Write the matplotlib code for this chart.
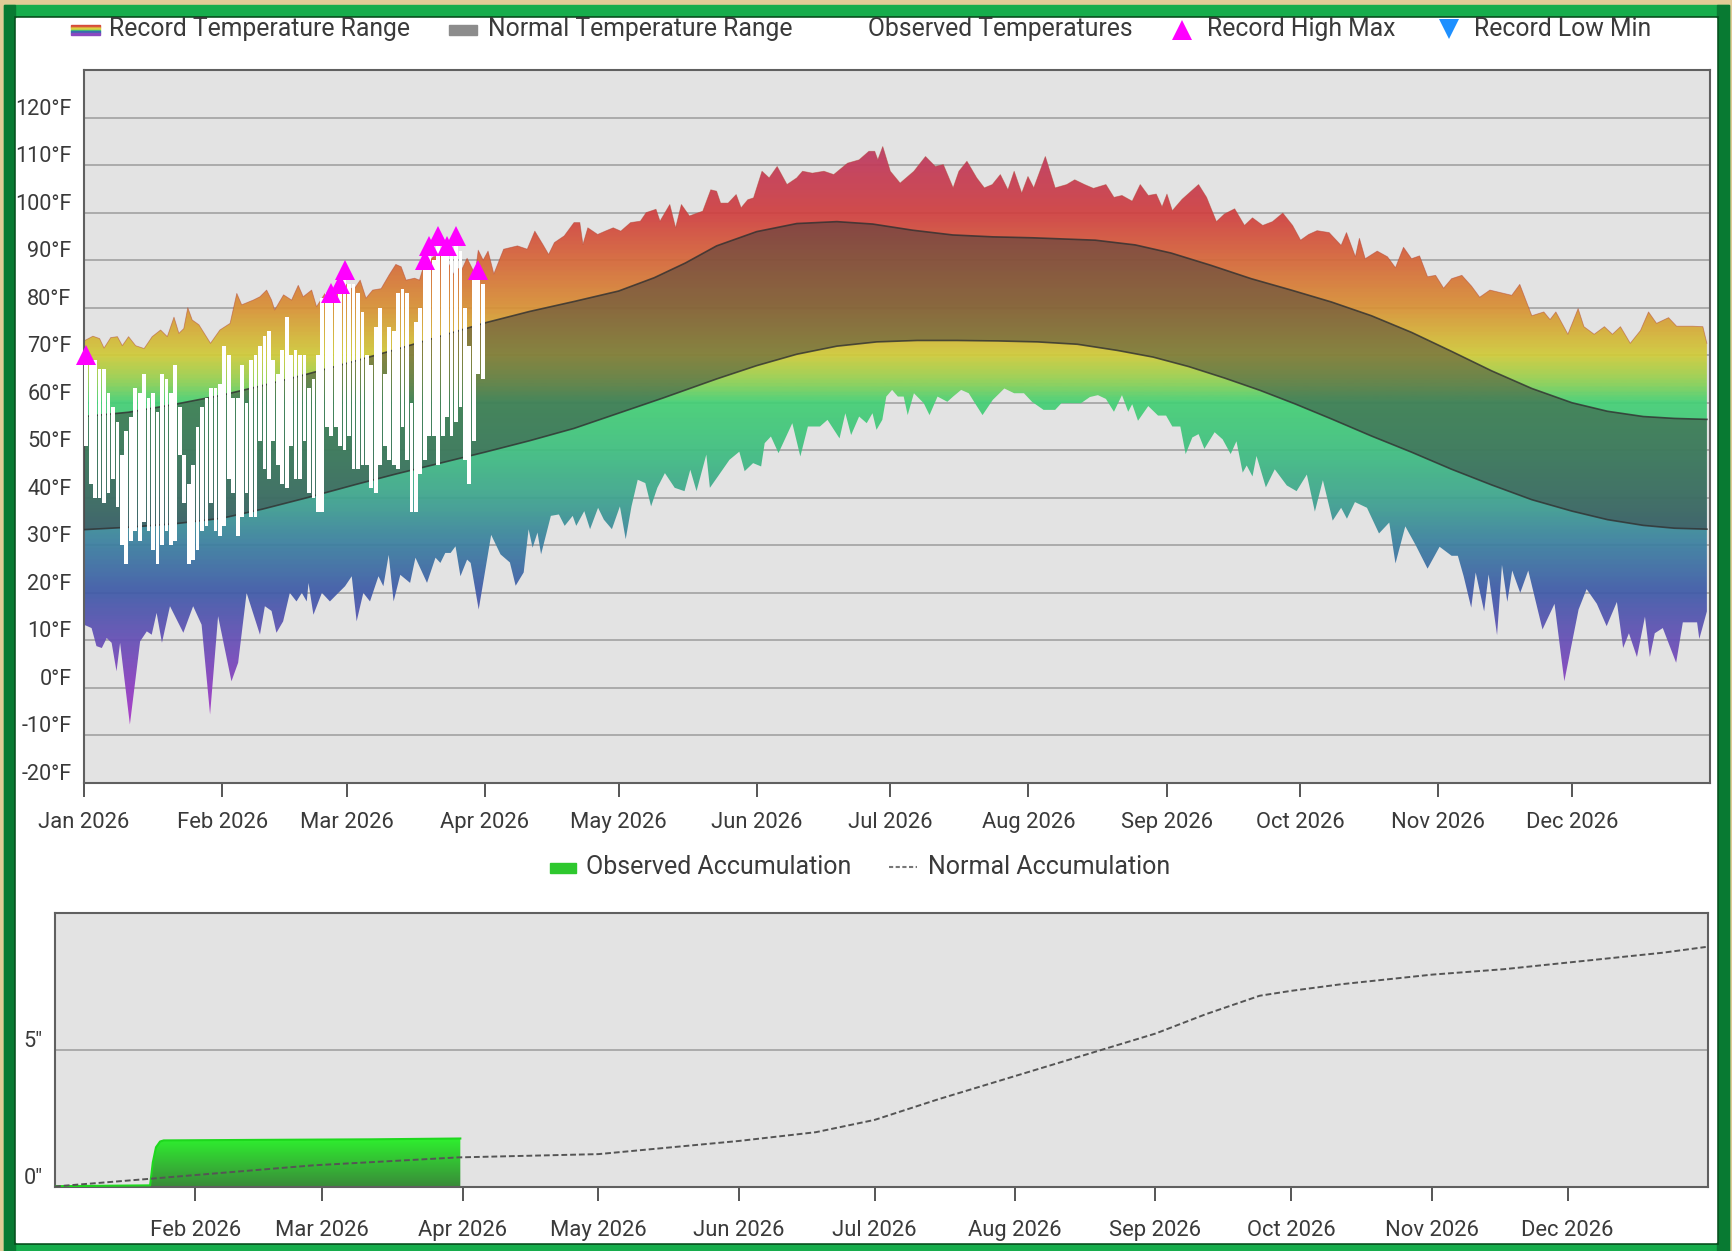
import numpy as np
import matplotlib
matplotlib.use('Agg')
import matplotlib.pyplot as plt
import matplotlib.dates as mdates
from matplotlib.colors import LinearSegmentedColormap, Normalize
from matplotlib.patches import Polygon, Rectangle
from matplotlib.transforms import ScaledTranslation

plt.rcParams['font.family'] = ['Roboto', 'DejaVu Sans']

# ******************************* DATA (day 0 = Jan 1 2026, deg F) *******************************
rec_high_day = [0, 2, 3.5, 4.5, 6, 7.5, 8.6, 10, 11.6, 13.5, 15.3, 17.2, 18.7, 20.2, 21.3, 22.4, 23.3, 24.3, 25.8,
                28.4, 30.5, 32.8, 34.3, 35.4, 38, 39.5, 41, 42.1, 42.8, 44.8, 46.6, 48.1, 49.2, 51.1, 52.2, 54.1, 56,
                58.2, 60.5, 62, 63.3, 64.8, 66.7, 68.5, 70, 71.2, 72.3, 74.2, 75.3, 76.1, 78.4, 80.5, 82, 83, 83.7,
                84.8, 86, 87.8, 88.5, 89.6, 90.7, 92, 94.2, 97.3, 99.5, 101.2, 103, 104.3, 105.6, 107.8, 110, 111.3,
                112, 113.1, 115.3, 117, 118.8, 120.5, 122.7, 124.9, 126.2, 128.4, 129.3, 131.5, 132.8, 134.1, 135.9,
                138.9, 140.7, 142, 142.9, 144.6, 146.4, 147.5, 149, 150.3, 152.2, 153.8, 155.6, 157.8, 160, 161.3,
                163.5, 166.1, 168.3, 171.4, 174, 176.2, 177.5, 178.2, 179.3, 181, 183.2, 186.3, 188.9, 191.1, 192.9,
                195.1, 196.4, 198.2, 200.4, 202.1, 203.9, 205.7, 207.4, 208.8, 210.5, 211.9, 213.2, 215.8, 218,
                220.6, 222.4, 224.6, 226.6, 229.4, 231.2, 233, 235.3, 237.1, 238.9, 240.7, 242, 243.1, 244.3, 246.5,
                250.2, 252, 254.2, 256, 258.3, 260.5, 262.3, 264.6, 266.8, 269.1, 271.3, 273.1, 274.9, 276.8, 279.5,
                282.2, 283.4, 285.4, 286.3, 287.6, 290.3, 292.6, 294.4, 296.2, 298, 299.8, 301.6, 303.4, 305.2, 307,
                309.3, 311.5, 313.3, 315.6, 318.7, 320.5, 322.3, 325, 327.7, 329.1, 330.4, 333.1, 335.4, 336.7, 339,
                341.3, 343.1, 344.9, 347.1, 349.4, 351.2, 353, 355.7, 357.5, 361.1, 363.4, 364.3]
rec_high = [73.0, 74.0, 73.5, 71.5, 73.7, 73.9, 72.0, 73.9, 72.0, 71.4, 73.9, 75.3, 73.9, 78.0, 74.6, 75.6, 80.0, 77.4,
            76.4, 72.5, 75.3, 76.7, 83.0, 80.6, 81.6, 82.3, 83.7, 81.6, 79.5, 82.7, 81.6, 84.7, 82.3, 83.7, 80.2, 83.0,
            83.0, 85.4, 83.7, 85.8, 82.0, 83.7, 84.0, 86.9, 89.1, 88.6, 85.8, 86.2, 85.8, 88.3, 90.7, 91.0, 89.0,
            87.0, 88.3, 88.0, 90.4, 87.0, 92.1, 90.0, 91.9, 87.1, 92.3, 93.0, 92.3, 96.1, 93.3, 91.2, 93.7, 95.1,
            97.9, 97.9, 93.3, 96.8, 95.4, 96.1, 96.8, 96.1, 97.9, 98.2, 100.0, 100.7, 98.2, 101.7, 96.8, 101.7, 99.3,
            100.3, 104.8, 104.5, 102.0, 102.0, 103.8, 101.0, 102.7, 103.1, 108.7, 107.3, 109.7, 105.9, 107.3, 108.7,
            108.3, 108.7, 108.0, 110.4, 111.1, 112.9, 112.9, 111.1, 113.9, 108.7, 106.2, 108.7, 111.8, 109.7, 110.1,
            105.2, 108.7, 110.8, 107.3, 105.2, 105.9, 108.0, 104.8, 108.7, 104.1, 107.6, 105.2, 111.8, 105.2, 105.9,
            106.9, 105.9, 105.1, 105.9, 103.2, 103.6, 102.4, 105.9, 103.6, 103.9, 101.2, 103.9, 100.4, 102.8, 105.9,
            103.2, 98.1, 99.7, 100.8, 97.3, 98.9, 97.3, 98.1, 99.9, 97.3, 94.2, 95.4, 96.2, 95.8, 93.1, 95.8, 90.7,
            94.6, 90.3, 91.9, 90.7, 88.4, 92.7, 90.3, 90.9, 86.5, 86.8, 84.1, 86.1, 86.8, 84.5, 82.2, 83.7, 83.0,
            82.6, 84.9, 78.3, 79.1, 77.5, 79.1, 74.4, 79.8, 76.0, 74.4, 76.0, 74.4, 76.0, 72.5, 75.2, 79.1, 76.7,
            77.9, 76.1, 76.1, 76.0, 72.5]

rec_low_day = [0, 1.7, 2.8, 4, 5.1, 6.2, 7.3, 8.1, 10.3, 12.6, 14.1, 15.2, 16.3, 17.5, 19.3, 22.3, 24.5, 26.4, 28.3,
               30.1, 33.1, 34.6, 36.5, 39.5, 40.6, 42.1, 43.2, 44.7, 46.2, 47.7, 48.9, 50, 50.4, 51.5, 53.4, 55.2,
               57.1, 58.6, 60.1, 61.2, 62.7, 64.2, 66.1, 67.2, 68.4, 69.5, 71, 73.2, 74.4, 77, 78.9, 80, 81.1, 82.3,
               83.4, 84.5, 86, 86.8, 88.6, 91.4, 93.5, 95.6, 96.9, 98.7, 99.8, 100.7, 101.8, 102.6, 104.8, 106.6,
               107.9, 109.7, 110.5, 112.3, 113.6, 115.4, 116.7, 118.5, 120.3, 121.6, 122.9, 124.3, 126, 127.3, 128.7,
               130.4, 132.6, 134.8, 136.1, 137.5, 139.7, 140.5, 142.3, 144.9, 147.1, 148.3, 150.2, 152, 152.8, 154.2,
               155.9, 159, 160.8, 162.5, 165.2, 166.9, 169.6, 170.9, 172.2, 174, 175.7, 177, 177.9, 179.2, 180.1,
               181.4, 182.7, 184, 184.9, 186.3, 188.5, 189.8, 191.6, 193.8, 195.1, 196.9, 198.6, 200, 201.7, 204,
               206.6, 208.8, 211, 212.8, 215.4, 218, 219.4, 221.6, 223.8, 225.8, 227.6, 229.4, 231.2, 233, 234.4,
               235.3, 236.6, 238.9, 241.1, 242.9, 244.3, 246.1, 247.3, 248.8, 250.2, 251.5, 253.8, 255.6, 257.4,
               258.7, 260.1, 261, 262.3, 263.2, 265.3, 267.3, 270, 272.2, 274.5, 276.3, 278.1, 280.3, 282.2, 283.5,
               285.3, 288, 290.7, 293, 294.4, 296.6, 298.9, 301.6, 304.3, 307, 308.4, 309.7, 311.4, 312.4, 314.3,
               315.3, 317.2, 318.3, 319.5, 320.6, 322.4, 324.2, 327.4, 330.1, 332.3, 335.5, 337.3, 339.6, 341.8,
               344.1, 345.5, 346.8, 348.6, 350.4, 351.5, 352.6, 354.4, 357.4, 358.9, 362.1, 362.6, 364.3]
rec_low = [13.3, 12.6, 8.8, 8.4, 10.5, 9.5, 3.5, 9.5, -7.7, 9.8, 11.9, 11.2, 15.8, 9.5, 17.2, 11.6, 17.2, 13.3, -5.6,
           15.1, 1.4, 5.3, 20.0, 11.2, 17.2, 16.2, 11.6, 14.0, 20.0, 18.2, 20.0, 18.2, 22.1, 15.4, 20.0, 18.2, 20.0,
           21.4, 23.5, 14.0, 20.0, 18.2, 23.5, 21.4, 28.0, 18.2, 23.8, 22.1, 27.4, 22.1, 27.4, 26.3, 28.4, 28.4, 29.8,
           23.5, 27.0, 26.3, 16.5, 32.2, 28.1, 26.4, 21.5, 24.3, 33.4, 29.5, 32.7, 28.1, 36.2, 36.5, 34.1, 36.2, 34.1,
           37.2, 33.4, 37.9, 35.4, 33.4, 38.2, 31.3, 38.2, 43.8, 43.1, 38.2, 42.1, 45.2, 42.1, 41.4, 45.9, 41.4, 49.1,
           42.1, 44.5, 48.0, 49.7, 45.6, 47.3, 46.6, 51.5, 52.9, 49.4, 55.7, 48.7, 55.0, 55.0, 56.4, 52.5, 57.8, 53.2,
           57.1, 55.7, 57.8, 54.3, 56.4, 61.3, 62.7, 61.3, 61.3, 57.4, 62.0, 59.9, 57.4, 61.3, 60.2, 61.3, 62.7, 62.0,
           59.9, 57.4, 60.6, 63.0, 62.0, 62.0, 60.2, 58.5, 58.5, 59.9, 59.9, 59.9, 61.2, 61.6, 60.8, 58.1, 61.6, 58.1,
           59.7, 56.2, 59.3, 57.3, 57.3, 55.0, 55.0, 49.2, 52.7, 53.4, 50.3, 53.8, 52.3, 49.2, 51.9, 45.3, 46.8, 44.5,
           48.8, 42.2, 46.0, 42.6, 41.4, 44.9, 37.1, 43.7, 35.2, 37.9, 35.6, 39.1, 37.9, 32.5, 34.8, 26.2, 34.0, 30.1,
           25.1, 29.7, 27.8, 27.8, 23.5, 16.9, 24.3, 16.1, 23.9, 11.1, 25.9, 18.1, 24.7, 20.0, 24.7, 12.3, 17.7, 1.4,
           16.5, 20.8, 17.7, 13.0, 18.1, 8.4, 11.5, 6.5, 15.0, 6.5, 11.5, 12.6, 5.3, 13.8, 13.8, 10.3, 16.1]

norm_high_day = [0, 10, 20, 31, 40, 50, 59, 70, 80, 90, 100, 110, 120, 128, 135, 142, 151, 160, 169, 177, 186, 195,
                 204, 213, 227, 236, 244, 253, 262, 271, 280, 289, 298, 307, 316, 325, 334, 342, 350, 357, 364.3]
norm_high = [57.1, 58.0, 59.6, 61.6, 63.6, 66.0, 68.3, 71.2, 74.0, 76.8, 79.2, 81.3, 83.5, 86.3, 89.4, 93.0, 96.0,
             97.7, 98.1, 97.6, 96.3, 95.3, 94.9, 94.7, 94.2, 93.2, 91.5, 88.9, 86.1, 83.7, 81.2, 78.3, 74.8, 70.8,
             66.7, 63.0, 60.0, 58.2, 57.1, 56.7, 56.5]
norm_low_day = [0, 10, 20, 31, 40, 50, 61, 70, 80, 90, 100, 110, 120, 130, 142, 151, 160, 169, 178, 187, 196, 205,
                214, 223, 232, 240, 248, 256, 264, 272, 280, 289, 298, 307, 316, 325, 334, 342, 350, 357, 364.3]
norm_low = [33.3, 33.8, 34.5, 35.7, 37.6, 40.0, 42.8, 45.0, 47.3, 49.6, 52.0, 54.6, 57.8, 61.0, 65.0, 67.8, 70.2,
            71.9, 72.8, 73.1, 73.1, 73.0, 72.8, 72.3, 71.0, 69.6, 67.6, 65.2, 62.6, 59.7, 56.6, 53.0, 49.6, 46.0,
            42.7, 39.6, 37.2, 35.4, 34.2, 33.6, 33.4]

# observed daily highs / lows, Jan 1 .. Mar 31
obs_high = [70, 68, 69, 67, 67, 62, 59, 56, 49, 54, 57, 63, 62, 66, 61, 62, 58, 66, 65, 62, 68, 59, 49, 43, 47, 55,
            59, 61, 63, 63, 64,
            72, 70, 61, 61, 68, 60, 69, 70, 72, 74, 75, 69, 66, 71, 78, 70, 71, 70, 70, 63, 65, 70, 82, 83, 83, 82,
            85, 88,
            85, 85, 83, 79, 70, 68, 76, 80, 66, 76, 75, 83, 84, 83, 60, 77, 80, 90, 93, 90, 95, 92, 93, 92, 95, 92,
            80, 72, 87, 88, 85]
obs_low = [51, 43, 40, 40, 39, 41, 44, 38, 30, 26, 31, 33, 31, 35, 33, 29, 26, 30, 33, 30, 31, 49, 39, 26, 27, 29,
           33, 34, 39, 33, 32,
           34, 44, 41, 32, 36, 41, 36, 36, 52, 46, 44, 52, 47, 43, 42, 51, 44, 44, 52, 41, 40, 37, 37, 55, 53, 55,
           51, 50,
           53, 46, 46, 47, 47, 42, 41, 47, 51, 48, 47, 46, 55, 48, 37, 37, 45, 48, 53, 53, 47, 53, 57, 53, 56, 59,
           48, 43, 52, 66, 65]
rec_high_max_day = [0, 55, 57, 58, 76, 77, 79, 81, 83, 88]

# precipitation accumulation (inches)
precip_obs_day = [0, 21, 21.6, 22.3, 23.2, 24, 45, 70, 89.5]
precip_obs = [0.03, 0.06, 0.9, 1.45, 1.66, 1.70, 1.72, 1.74, 1.77]
precip_norm_day = [0, 21, 57, 89, 120, 151, 168, 181, 195, 212, 231, 243, 254, 266, 273, 284, 304, 320, 334, 355,
                   364.5]
precip_norm = [0.02, 0.3, 0.79, 1.08, 1.2, 1.68, 2.0, 2.45, 3.2, 4.05, 5.0, 5.6, 6.3, 6.98, 7.16, 7.4, 7.75, 7.95,
               8.19, 8.55, 8.76]

temp_ticks = list(range(-20, 121, 10))
month_starts = [f'2026-{m:02d}-01' for m in range(1, 13)]

# ******************************* SETUP *******************************
W, H = 1732, 1251
base = mdates.date2num(np.datetime64('2026-01-01'))
x_end = mdates.date2num(np.datetime64('2027-01-01'))
month_x = [mdates.date2num(np.datetime64(d)) for d in month_starts]
txt = '#3a3a3a'
leg_fs = 17.8

fig = plt.figure(figsize=(W / 100, H / 100), dpi=100)
fig.patch.set_facecolor('#e2cb96')

# frame in pixel coordinates
bg = fig.add_axes([0, 0, 1, 1])
bg.set_xlim(0, W)
bg.set_ylim(H, 0)
bg.axis('off')
bg.add_patch(Rectangle((4, 5), 1725, 1250, color='#16ad4c'))
bg.add_patch(Rectangle((4, 5), 11, 1250, color='#087a32'))
bg.add_patch(Rectangle((1717, 5), 12, 1250, color='#087a32'))
bg.add_patch(Rectangle((15, 17), 1702, 1226, fill=False, ec='#07521f', lw=2))
bg.add_patch(Rectangle((16, 18), 1700, 1224, color='white'))


def px_axes(l, t, r, b):
    return fig.add_axes([l / W, 1 - b / H, (r - l) / W, (b - t) / H])


# ******************************* TEMPERATURE CHART *******************************
ax = px_axes(84, 70, 1710, 783)
ax.set_facecolor('#e3e3e3')

stops = [(-10, '#b22fc8'), (0, '#8a3fc0'), (10, '#6450b5'), (20, '#3f5aa8'), (30, '#3b7fa0'), (40, '#3ea58e'),
         (50, '#3fbf80'), (60, '#45d075'), (65, '#98d050'), (70, '#d0cc3a'), (80, '#d99236'), (90, '#d6683a'),
         (100, '#d04040'), (110, '#c23a58'), (120, '#b03a72')]
cmap = LinearSegmentedColormap.from_list('rec', [((v + 10) / 130, c) for v, c in stops])

xs_h = base + np.array(rec_high_day)
xs_l = base + np.array(rec_low_day)
verts = np.vstack([np.column_stack([xs_h, rec_high]), np.column_stack([xs_l, rec_low])[::-1]])
clip = Polygon(verts, closed=True, facecolor='none', edgecolor='none', transform=ax.transData)
ax.add_patch(clip)
grad = np.linspace(-10, 120, 400).reshape(-1, 1)
im = ax.imshow(grad, extent=[base, x_end, -10, 120], origin='lower', aspect='auto', cmap=cmap,
               norm=Normalize(-10, 120), alpha=0.93, zorder=2)
im.set_clip_path(clip)
ax.plot(xs_h, rec_high, color='#b04030', lw=0.6, alpha=0.5, zorder=2)

# normal range band
band = np.vstack([np.column_stack([base + np.array(norm_high_day), norm_high]),
                  np.column_stack([base + np.array(norm_low_day), norm_low])[::-1]])
ax.add_patch(Polygon(band, closed=True, facecolor='#3c3c3c', alpha=0.5, lw=0, zorder=3))
ax.plot(base + np.array(norm_high_day), norm_high, color='#303030', lw=1.2, alpha=0.8, zorder=3)
ax.plot(base + np.array(norm_low_day), norm_low, color='#303030', lw=1.2, alpha=0.8, zorder=3)

# observed temps
od = base + np.arange(len(obs_high)) + 0.5
ax.bar(od, np.array(obs_high) - np.array(obs_low), bottom=obs_low, width=0.85, color='white', lw=0,
       antialiased=False, zorder=4)
ax.plot(od[rec_high_max_day], np.array(obs_high)[rec_high_max_day], '^', color='#ff00ff', ms=15, mew=0,
        zorder=5, clip_on=False)

ax.set_xlim(base, x_end)
ax.set_ylim(-20, 130)
ax.set_yticks(temp_ticks, labels=[f'{t}°F' for t in temp_ticks])
ax.grid(axis='y', color='#ababab', lw=1.4)
ax.set_axisbelow(True)
ax.tick_params(axis='y', length=0, pad=9, labelsize=15.6, labelcolor=txt)
ax.set_xticks(month_x, labels=[mdates.num2date(m).strftime('%b %Y') for m in month_x])
ax.tick_params(axis='x', length=10, width=1.4, color='#555555', pad=11, labelsize=15.8, labelcolor=txt)
for s in ax.spines.values():
    s.set_color('#606060')
    s.set_linewidth(1.5)
off = ScaledTranslation(0, 0.11, fig.dpi_scale_trans)
for lab in ax.get_yticklabels():
    lab.set_transform(lab.get_transform() + off)

# legend
ly = 29
rainbow = ['#d64a3a', '#e0963a', '#d8d040', '#48c870', '#3a6ab0', '#8a48c0']
for i, c in enumerate(rainbow):
    bg.add_patch(Rectangle((71, 25 + i * 1.6), 29, 1.6, color=c))
bg.text(109, ly, 'Record Temperature Range', fontsize=leg_fs, color=txt, va='center')
bg.add_patch(Rectangle((449, 25), 28, 9.5, color='#8c8c8c'))
bg.text(488, ly, 'Normal Temperature Range', fontsize=leg_fs, color=txt, va='center')
bg.text(868, ly, 'Observed Temperatures', fontsize=leg_fs, color=txt, va='center')
bg.plot([1182], [ly + 1], '^', color='#ff00ff', ms=15, mew=0)
bg.text(1207, ly, 'Record High Max', fontsize=leg_fs, color=txt, va='center')
bg.plot([1449], [ly], 'v', color='#1e90ff', ms=15, mew=0)
bg.text(1474, ly, 'Record Low Min', fontsize=leg_fs, color=txt, va='center')

# ******************************* PRECIPITATION CHART *******************************
ax2 = px_axes(55, 913, 1708, 1187)
ax2.set_facecolor('#e3e3e3')
px = base + np.array(precip_obs_day)
pverts = np.vstack([[px[0], 0], np.column_stack([px, precip_obs]), [px[-1], 0]])
pclip = Polygon(pverts, closed=True, facecolor='none', edgecolor='none', transform=ax2.transData)
ax2.add_patch(pclip)
gcmap = LinearSegmentedColormap.from_list('grn', ['#3a8a3a', '#2ef22e'])
pim = ax2.imshow(np.linspace(0, 1, 200).reshape(-1, 1), extent=[base, x_end, 0, 1.8], origin='lower',
                 aspect='auto', cmap=gcmap, zorder=2)
pim.set_clip_path(pclip)
ax2.plot(px, precip_obs, color='#1ed81e', lw=1.5, zorder=3)
ax2.plot(base + np.array(precip_norm_day), precip_norm, color='#555555', lw=1.4, ls=(0, (3, 1.5)), zorder=4)

ax2.set_xlim(base, x_end)
ax2.set_ylim(0, 10)
ax2.set_yticks([0, 5], labels=['0"', '5"'])
ax2.grid(axis='y', color='#ababab', lw=1.4)
ax2.set_axisbelow(True)
ax2.tick_params(axis='y', length=0, pad=9, labelsize=15.6, labelcolor=txt)
ax2.set_xticks(month_x[1:], labels=[mdates.num2date(m).strftime('%b %Y') for m in month_x[1:]])
ax2.tick_params(axis='x', length=10, width=1.4, color='#555555', pad=14, labelsize=15.8, labelcolor=txt)
for s in ax2.spines.values():
    s.set_color('#606060')
    s.set_linewidth(1.5)
for lab in ax2.get_yticklabels():
    lab.set_transform(lab.get_transform() + off)

bg.add_patch(Rectangle((550, 863), 26, 10, color='#2ec82e'))
bg.text(586, 867, 'Observed Accumulation', fontsize=18, color=txt, va='center')
bg.plot([889, 917], [867, 867], color='#777777', lw=1.5, ls=(0, (2, 1.2)))
bg.text(928, 867, 'Normal Accumulation', fontsize=18, color=txt, va='center')

fig.savefig('out.png', dpi=100, facecolor=fig.get_facecolor())
